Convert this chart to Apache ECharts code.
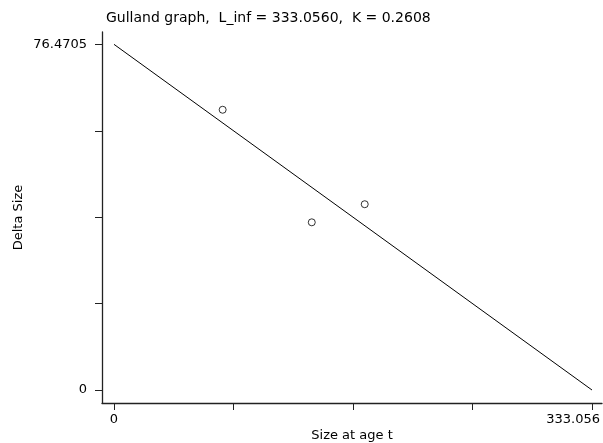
<!DOCTYPE html>
<html>
<head>
<meta charset="utf-8">
<script src="https://cdn.jsdelivr.net/npm/echarts@6/dist/echarts.min.js"></script>
<style>
  html, body { margin: 0; padding: 0; background: #fff; }
  #chart { width: 603px; height: 443px; }
</style>
</head>
<body>
<div id="chart"></div>
<script>
// observed points (size at age t, delta size)
var sizeT = [75.7, 137.8, 174.7]
var deltaSize = [62.0, 37.1, 41.1]
// fitted line end points
var lineX = [0, 333.056]
var lineY = [76.4705, 0]
// axis ticks
var xTicks = [0, 83.264, 166.528, 249.792, 333.056]
var xTickLabels = [0, 333.056]
var yTicks = [0, 19.117625, 38.23525, 57.352875, 76.4705]
var yTickLabels = [0, 76.4705]

var font = 'DejaVu Sans'
var chart = echarts.init(document.getElementById('chart'))

chart.setOption({
  animation: false,
  title: {
    text: 'Gulland graph,  L_inf = 333.0560,  K = 0.2608',
    left: 101,
    top: 6,
    textStyle: { fontFamily: font, fontSize: 14, fontWeight: 'normal', color: '#000' }
  },
  grid: { left: 102, right: 1, top: 32, bottom: 40, outerBoundsMode: 'none' },
  xAxis: {
    type: 'value',
    min: -8.361,
    max: 340.02,
    name: 'Size at age t',
    nameLocation: 'middle',
    nameGap: 26,
    nameMoveOverlap: false,
    nameTextStyle: { fontFamily: font, fontSize: 13, color: '#000' },
    axisLine: { show: true, onZero: false, lineStyle: { color: '#222', width: 1.3 } },
    axisTick: { show: true, length: 7, customValues: xTicks, lineStyle: { color: '#222' } },
    axisLabel: {
      customValues: xTickLabels,
      margin: 10,
      fontFamily: font,
      fontSize: 13,
      color: '#000',
      alignMaxLabel: 'right',
      formatter: function (v) { return v === 0 ? '0' : '{m|' + v + '}' },
      rich: {
        m: { fontFamily: font, fontSize: 13, color: '#000', padding: [0, -8, 0, 0] }
      }
    },
    splitLine: { show: false }
  },
  yAxis: {
    type: 'value',
    min: -2.869,
    max: 79.2,
    name: 'Delta Size',
    nameLocation: 'middle',
    nameGap: 77,
    nameMoveOverlap: false,
    nameTextStyle: { fontFamily: font, fontSize: 13, color: '#000' },
    axisLine: { show: true, onZero: false, lineStyle: { color: '#222', width: 1.3 } },
    axisTick: { show: true, length: 7, customValues: yTicks, lineStyle: { color: '#222' } },
    axisLabel: {
      customValues: yTickLabels,
      margin: 15,
      fontFamily: font,
      fontSize: 13,
      color: '#000',
      formatter: function (v) { return v === 0 ? '0' : v.toFixed(4) }
    },
    splitLine: { show: false }
  },
  series: [
    {
      type: 'line',
      data: lineX.map(function (x, i) { return [x, lineY[i]] }),
      showSymbol: false,
      lineStyle: { color: '#000', width: 1 }
    },
    {
      type: 'scatter',
      data: sizeT.map(function (x, i) { return [x, deltaSize[i]] }),
      symbol: 'circle',
      symbolSize: 7,
      itemStyle: { color: '#fff', borderColor: '#000', borderWidth: 1 }
    }
  ]
})
</script>
</body>
</html>
